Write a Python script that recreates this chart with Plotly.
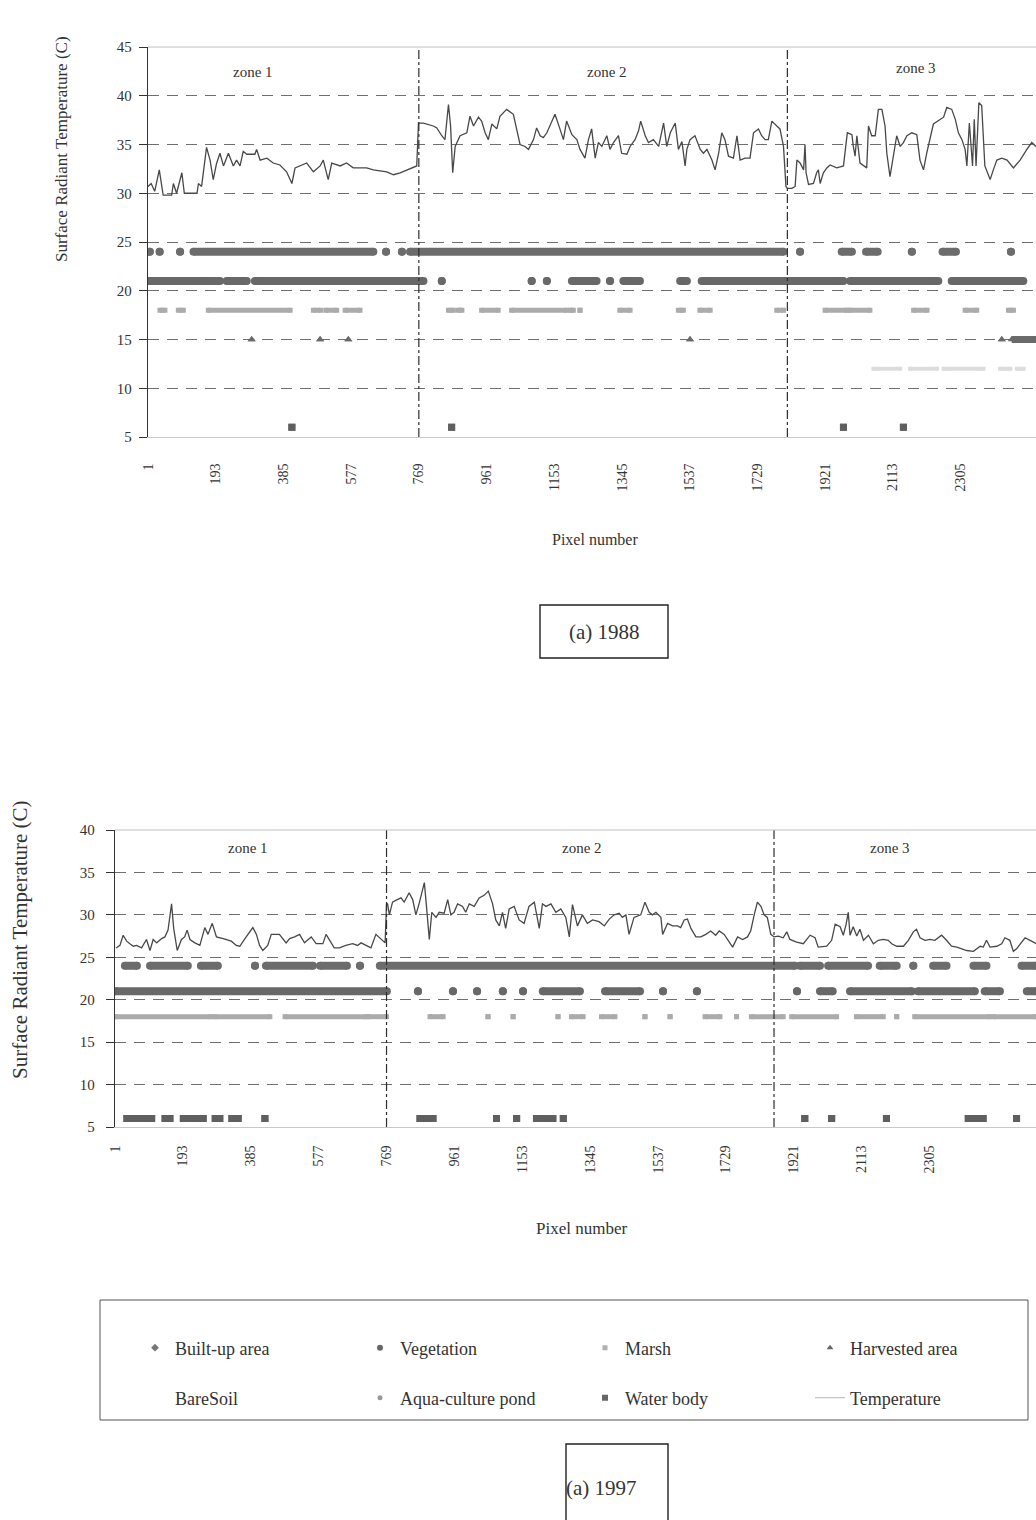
import plotly.graph_objects as go

# ---------------------------------------------------------------- data
TICK_PIXELS = [1, 193, 385, 577, 769, 961, 1153, 1345, 1537, 1729, 1921, 2113, 2305]
TICK_TEXT = ["1", "193", "385", "577", "769", "961", "1153", "1345", "1537",
             "1729", "1921", "2113", "2305"]

CLASS_NAMES = ["Built-up area", "Vegetation", "Marsh", "Harvested area",
               "BareSoil", "Aqua-culture pond", "Water body"]
CLASS_LEVELS = [24, 21, 18, 15, 12, 9, 6]

ZONE_BOUNDS_88 = [769, 1814]
ZONE_BOUNDS_97 = [769, 1865]

# Surface radiant temperature profile, 1988 (pixel, deg C)
T88_PX = [1, 10, 20, 33, 44, 68, 73, 82, 97, 104, 111, 140, 144, 153, 167, 177, 186, 195, 205, 215,
          229, 243, 252, 262, 271, 281, 304, 309, 319, 338, 356, 375, 394, 409, 418, 432, 451, 470,
          489, 498, 512, 522, 546, 564, 583, 621, 640, 678, 697, 716, 735, 763, 768,
          774, 782, 810, 820, 834, 843, 853, 859, 865, 872, 886, 905, 914, 924, 938, 947, 957, 966,
          976, 990, 999, 1018, 1037, 1047, 1056, 1070, 1080, 1094, 1103, 1113, 1122, 1132, 1146,
          1155, 1169, 1179, 1188, 1203, 1217, 1226, 1240, 1250, 1259, 1269, 1278, 1288, 1302, 1311,
          1321, 1335, 1344, 1359, 1368, 1382, 1392, 1398, 1411, 1420, 1434, 1449, 1463, 1472, 1482,
          1496, 1505, 1515, 1524, 1529, 1538, 1552, 1567, 1576, 1586, 1600, 1609, 1619, 1628, 1637,
          1647, 1661, 1671, 1680, 1694, 1708, 1718, 1732, 1741, 1751, 1760, 1770, 1784, 1793, 1803,
          1810,
          1814, 1827, 1836, 1841, 1850, 1860, 1864, 1867, 1874, 1888, 1897, 1902, 1907, 1916, 1926,
          1935, 1954, 1973, 1984, 1997, 2001, 2006, 2011, 2020, 2039, 2044, 2053, 2063, 2072, 2082,
          2091, 2096, 2105, 2115, 2124, 2134, 2143, 2153, 2167, 2181, 2190, 2200, 2209, 2228, 2242,
          2257, 2266, 2280, 2290, 2299, 2309, 2318, 2323, 2330, 2335, 2339, 2344, 2349, 2357, 2365,
          2374, 2389, 2398, 2408, 2422, 2437, 2455, 2474, 2493, 2507, 2519]
T88_C = [30.7, 31.0, 30.2, 32.4, 29.8, 29.8, 31.0, 30.0, 32.1, 30.0, 30.0, 30.0, 31.0, 30.7, 34.7,
         33.4, 31.4, 33.0, 34.1, 32.8, 34.1, 32.8, 33.4, 32.8, 34.3, 34.0, 34.0, 34.5, 33.4, 33.6,
         33.1, 32.9, 32.2, 31.0, 32.6, 32.8, 33.1, 32.2, 32.8, 33.4, 31.4, 33.1, 32.8, 33.1, 32.6,
         32.6, 32.4, 32.2, 31.9, 32.1, 32.4, 32.8, 37.2,
         37.2, 37.2, 36.9, 36.7, 35.9, 35.5, 39.1, 36.9, 32.1, 34.8, 35.9, 36.2, 37.9, 36.9, 37.8,
         37.4, 36.2, 35.5, 37.1, 36.6, 37.9, 38.6, 38.1, 36.6, 35.0, 34.8, 34.5, 35.5, 36.7, 35.9,
         35.7, 36.2, 37.4, 38.1, 36.6, 35.5, 37.4, 36.0, 35.5, 34.5, 33.6, 35.5, 36.6, 33.6, 35.2,
         34.8, 35.9, 34.5, 35.2, 35.9, 34.1, 34.0, 34.8, 35.5, 36.4, 37.4, 35.9, 35.2, 35.5, 34.8,
         37.2, 34.8, 36.2, 37.2, 34.5, 35.3, 32.8, 34.5, 35.5, 35.9, 34.5, 34.1, 34.5, 33.4, 32.4,
         34.1, 36.2, 35.5, 33.8, 33.6, 35.9, 33.4, 33.6, 33.6, 36.2, 36.6, 35.9, 35.5, 35.5, 37.4,
         36.9, 36.6, 34.8, 30.7,
         30.5, 30.5, 30.7, 33.4, 33.1, 32.4, 35.0, 32.1, 30.9, 31.0, 32.1, 32.4, 31.0, 32.1, 32.6,
         32.9, 32.6, 32.8, 36.2, 36.0, 34.8, 33.8, 35.9, 33.1, 32.6, 36.9, 35.9, 35.9, 38.6, 38.6,
         36.9, 34.1, 31.7, 33.8, 35.9, 34.8, 35.2, 35.9, 36.2, 36.0, 33.4, 32.4, 34.1, 37.1, 37.4,
         37.8, 38.8, 38.6, 37.6, 36.2, 35.5, 34.5, 32.8, 37.2, 34.8, 32.8, 37.6, 32.8, 39.3, 39.0,
         32.8, 31.4, 32.4, 33.4, 33.6, 33.4, 32.6, 33.4, 34.5, 35.2, 34.8]

# Surface radiant temperature profile, 1997 (pixel, deg C)
T97_PX = [4, 15, 24, 34, 43, 53, 62, 76, 90, 100, 109, 119, 133, 142, 151, 161, 167, 177, 189, 198,
          205, 213, 227, 241, 255, 264, 276, 288, 307, 316, 330, 344, 354, 372, 391, 401, 410, 419,
          433, 443, 466, 485, 495, 509, 523, 537, 556, 570, 589, 598, 612, 621, 636, 654, 673, 687,
          697, 711, 725, 739, 753, 765, 769,
          772, 777, 786, 795, 810, 819, 833, 843, 852, 861, 876, 882, 890, 897, 909, 918, 932, 942,
          951, 960, 970, 984, 993, 1003, 1017, 1031, 1045, 1057, 1069, 1078, 1088, 1097, 1106, 1116,
          1130, 1144, 1158, 1172, 1187, 1201, 1210, 1220, 1234, 1248, 1262, 1276, 1286, 1295, 1309,
          1323, 1337, 1352, 1370, 1385, 1399, 1413, 1427, 1436, 1446, 1455, 1469, 1488, 1500, 1512,
          1521, 1531, 1545, 1550, 1564, 1578, 1592, 1601, 1611, 1620, 1630, 1644, 1658, 1672, 1686,
          1700, 1710, 1724, 1733, 1748, 1762, 1776, 1790, 1799, 1809, 1818, 1828, 1837, 1846, 1856,
          1865,
          1877, 1891, 1901, 1910, 1929, 1948, 1967, 1981, 1990, 2014, 2028, 2038, 2052, 2061, 2069,
          2075, 2080, 2089, 2099, 2108, 2118, 2132, 2146, 2160, 2174, 2188, 2198, 2212, 2231, 2245,
          2259, 2268, 2278, 2292, 2306, 2320, 2339, 2353, 2367, 2382, 2396, 2410, 2429, 2448, 2457,
          2466, 2476, 2495, 2509, 2518, 2532, 2542, 2551, 2561, 2575, 2589, 2607]
T97_C = [26.1, 26.4, 27.6, 26.9, 26.6, 26.3, 26.4, 26.1, 27.1, 25.8, 27.1, 26.7, 27.2, 27.4, 28.2,
         31.3, 28.4, 25.8, 27.1, 27.4, 28.2, 27.1, 26.7, 26.4, 28.5, 27.7, 29.0, 27.4, 27.2, 27.1,
         26.9, 26.4, 26.3, 27.4, 28.5, 27.7, 26.4, 25.8, 26.4, 27.7, 27.7, 26.7, 27.2, 27.4, 27.7,
         26.7, 27.4, 26.6, 26.6, 27.7, 26.7, 26.1, 26.1, 26.4, 26.6, 26.4, 26.7, 26.4, 26.1, 27.7,
         27.2, 26.7, 31.3,
         31.3, 30.0, 31.5, 31.7, 32.0, 31.5, 32.6, 31.8, 30.0, 31.3, 33.8, 31.0, 27.1, 30.3, 29.7,
         30.3, 30.2, 31.8, 30.0, 30.3, 31.3, 31.0, 30.3, 31.3, 31.0, 32.0, 32.3, 32.8, 31.3, 29.4,
         28.7, 30.3, 28.4, 30.7, 31.0, 29.4, 29.0, 31.0, 31.5, 28.4, 31.3, 31.0, 31.3, 30.3, 30.7,
         29.7, 27.4, 31.2, 28.7, 30.0, 29.0, 29.4, 29.2, 28.7, 29.5, 30.0, 30.2, 29.7, 30.0, 27.7,
         29.7, 30.0, 31.5, 30.3, 30.0, 30.3, 29.7, 27.7, 29.0, 28.7, 28.7, 28.5, 29.4, 29.5, 28.4,
         27.4, 27.4, 27.7, 28.1, 27.6, 28.1, 27.7, 27.1, 26.2, 27.4, 27.1, 27.4, 28.1, 30.0, 31.5,
         31.0, 30.0, 29.7, 27.7, 27.4,
         27.5, 27.3, 28.0, 27.1, 26.8, 26.6, 27.6, 27.3, 26.2, 26.3, 27.0, 28.9, 28.6, 27.6, 28.9,
         30.3, 27.6, 28.6, 27.5, 28.3, 27.0, 27.6, 26.6, 27.0, 27.1, 27.0, 26.6, 26.3, 26.3, 27.0,
         28.0, 28.3, 27.3, 27.0, 27.1, 27.0, 27.6, 27.0, 26.3, 26.2, 26.0, 25.8, 25.7, 26.3, 26.2,
         27.0, 26.2, 26.3, 26.6, 27.3, 27.0, 25.7, 26.0, 26.6, 27.3, 27.0, 26.6]

# Land-cover class occurrence along the transect, as (first pixel, last pixel) runs
BUILTUP_88 = [(6, 6), (34, 34), (92, 92), (130, 640), (676, 676), (721, 721), (744, 1803),
              (1850, 1850), (1968, 1997), (2037, 2070), (2167, 2167), (2254, 2292), (2448, 2448)]
VEG_88 = [(1, 158), (163, 205), (224, 281), (304, 782), (834, 834), (1089, 1089), (1132, 1132),
          (1203, 1273), (1311, 1311), (1349, 1396), (1510, 1529), (1571, 1973), (1992, 2242),
          (2280, 2483)]
MARSH_88 = [(35, 49), (87, 101), (172, 404), (470, 490), (505, 536), (560, 602), (853, 867),
            (881, 891), (947, 994), (1032, 1188), (1198, 1207), (1226, 1226), (1339, 1368),
            (1505, 1519), (1566, 1595), (1784, 1803), (1921, 1983), (1991, 2048), (2172, 2210),
            (2318, 2351), (2441, 2455)]
HARV_88 = [(295, 295), (489, 489), (569, 569), (1538, 1538), (2422, 2422), (2450, 2519)]
BARE_88 = [(2058, 2134), (2162, 2238), (2257, 2370), (2417, 2446), (2465, 2484)]
AQUA_88 = []
WATER_88 = [(409, 409), (862, 862), (1973, 1973), (2143, 2143)]

BUILTUP_97 = [(29, 63), (100, 207), (244, 292), (397, 397), (428, 561), (581, 657), (694, 694),
              (750, 1924), (1938, 1995), (2018, 2131), (2164, 2212), (2259, 2259), (2315, 2353),
              (2429, 2466), (2565, 2606)]
VEG_97 = [(3, 770), (858, 858), (957, 957), (1025, 1025), (1098, 1098), (1155, 1155),
          (1211, 1316), (1387, 1486), (1551, 1551), (1647, 1647), (1930, 1930), (1995, 2031),
          (2080, 2255), (2272, 2433), (2461, 2504), (2580, 2606)]
MARSH_97 = [(1, 272), (282, 439), (482, 711), (717, 769), (892, 929), (1056, 1056),
            (1127, 1127), (1254, 1254), (1292, 1325), (1377, 1415), (1500, 1500), (1571, 1571),
            (1670, 1712), (1759, 1759), (1801, 1891), (1915, 2042), (2098, 2174), (2212, 2212),
            (2263, 2475), (2485, 2606)]
HARV_97 = []
BARE_97 = []
AQUA_97 = []
WATER_97 = [(34, 105), (142, 157), (194, 251), (284, 298), (331, 350), (425, 425), (863, 901),
            (1080, 1080), (1137, 1137), (1193, 1240), (1269, 1269), (1952, 1952), (2028, 2028),
            (2183, 2183), (2414, 2457), (2551, 2551)]

# ---------------------------------------------------------------- styling
SERIF = "Liberation Serif, Times New Roman, serif"
INK = "#333333"
CLASS_STYLE = {
    "Built-up area":     dict(color="#6c6c6c", symbol="circle", size=8),
    "Vegetation":        dict(color="#686868", symbol="circle", size=8),
    "Marsh":             dict(color="#ababab", symbol="square", size=5),
    "Harvested area":    dict(color="#6a6a6a", symbol="triangle-up", size=7),
    "BareSoil":          dict(color="#dcdcdc", symbol="square", size=4),
    "Aqua-culture pond": dict(color="#b5b5b5", symbol="circle", size=5),
    "Water body":        dict(color="#5f5f5f", symbol="square", size=7),
}
LEGEND_MARK = {
    "Built-up area": dict(color="#777777", symbol="diamond", size=6),
    "Vegetation": dict(color="#666666", symbol="circle", size=6),
    "Marsh": dict(color="#b0b0b0", symbol="square", size=5),
    "Harvested area": dict(color="#666666", symbol="triangle-up", size=6),
    "BareSoil": dict(color="#ffffff", symbol="square", size=5),
    "Aqua-culture pond": dict(color="#999999", symbol="circle", size=5),
    "Water body": dict(color="#666666", symbol="square", size=6),
}

fig = go.Figure()


def add_runs(runs, level, name, xa, ya):
    if not runs:
        return
    xs, ys = [], []
    for a, b in runs:
        xs += [a, b, None]
        ys += [level, level, None]
    st = CLASS_STYLE[name]
    fig.add_trace(go.Scatter(
        x=xs, y=ys, mode="lines+markers", xaxis=xa, yaxis=ya, showlegend=False,
        line=dict(color=st["color"], width=st["size"]),
        marker=dict(color=st["color"], symbol=st["symbol"], size=st["size"], line=dict(width=0)),
        hoverinfo="skip", connectgaps=False, name=name))


panels = [
    ("x", "y", [BUILTUP_88, VEG_88, MARSH_88, HARV_88, BARE_88, AQUA_88, WATER_88], T88_PX, T88_C),
    ("x2", "y2", [BUILTUP_97, VEG_97, MARSH_97, HARV_97, BARE_97, AQUA_97, WATER_97], T97_PX, T97_C),
]
for xa, ya, runs_list, tpx, tc in panels:
    for runs, level, name in zip(runs_list, CLASS_LEVELS, CLASS_NAMES):
        add_runs(runs, level, name, xa, ya)
    fig.add_trace(go.Scatter(x=tpx, y=tc, mode="lines", xaxis=xa, yaxis=ya, showlegend=False,
                             line=dict(color="#484848", width=1.3), name="Temperature"))

# legend entries (two rows of four)
for i, name in enumerate(CLASS_NAMES):
    fig.add_trace(go.Scatter(x=[None], y=[None], mode="markers", name=name,
                             marker=dict(line=dict(width=0), **LEGEND_MARK[name]),
                             legend="legend" if i < 4 else "legend2"))
fig.add_trace(go.Scatter(x=[None], y=[None], mode="lines", name="Temperature",
                         line=dict(color="#c4c4c4", width=1.2), legend="legend2"))

H = 1520.0
W = 1036.0


def py(px):
    return 1 - px / H


def pxx(px):
    return px / W


axis_common = dict(
    showgrid=False, zeroline=False, showline=True, linecolor="#c8c8c8", linewidth=1,
    ticks="", tickmode="array", tickvals=TICK_PIXELS, ticktext=TICK_TEXT, tickangle=-90,
    tickfont=dict(family=SERIF, size=14, color=INK),
)
yaxis_common = dict(
    showgrid=True, gridcolor="#6f6f6f", gridwidth=1, griddash="11px,8px", zeroline=False,
    showline=True, linecolor=INK, linewidth=1.3, ticks="outside", ticklen=8, tickcolor=INK,
    tickwidth=1.1, dtick=5, tickfont=dict(family=SERIF, size=15, color=INK),
)
legend_common = dict(orientation="h", xanchor="left", yanchor="middle", entrywidth=180,
                     entrywidthmode="pixels", bgcolor="rgba(0,0,0,0)",
                     font=dict(family=SERIF, size=18, color=INK), itemsizing="trace")

fig.update_layout(
    width=1036, height=1520, margin=dict(l=0, r=0, t=0, b=0),
    paper_bgcolor="white", plot_bgcolor="white", template="none",
    xaxis=dict(domain=[pxx(148), 1], range=[1, 2519], anchor="y", ticklabelstandoff=20,
               **axis_common),
    yaxis=dict(domain=[py(437), py(47)], range=[5, 45], anchor="x", tick0=5,
               ticklabelstandoff=4, **yaxis_common),
    xaxis2=dict(domain=[pxx(115), 1], range=[1, 2606], anchor="y2", ticklabelstandoff=12,
                **axis_common),
    yaxis2=dict(domain=[py(1127), py(830)], range=[5, 40], anchor="x2", tick0=5,
                ticklabelstandoff=8, **yaxis_common),
    legend=dict(x=pxx(135), y=py(1348), **legend_common),
    legend2=dict(x=pxx(135), y=py(1398), **legend_common),
)

shapes = []
# zone separators
for bound in ZONE_BOUNDS_88:
    shapes.append(dict(type="line", xref="x", yref="y domain", x0=bound, x1=bound, y0=0, y1=1,
                       line=dict(color="#2e2e2e", width=1.2, dash="dashdot")))
for bound in ZONE_BOUNDS_97:
    shapes.append(dict(type="line", xref="x2", yref="y2 domain", x0=bound, x1=bound, y0=0, y1=1,
                       line=dict(color="#2e2e2e", width=1.2, dash="dashdot")))
# faint top border of both plot areas
for xr, yr in (("x domain", "y domain"), ("x2 domain", "y2 domain")):
    shapes.append(dict(type="line", xref=xr, yref=yr, x0=0, x1=1, y0=1, y1=1,
                       line=dict(color="#c0c0c0", width=1)))
# legend frame
shapes.append(dict(type="rect", xref="paper", yref="paper", x0=pxx(100), x1=pxx(1028),
                   y0=py(1420), y1=py(1300), line=dict(color="#555555", width=1)))
# caption boxes
shapes.append(dict(type="rect", xref="paper", yref="paper", x0=pxx(540), x1=pxx(668),
                   y0=py(658), y1=py(605), line=dict(color="#222222", width=1.4)))
shapes.append(dict(type="rect", xref="paper", yref="paper", x0=pxx(566), x1=pxx(668),
                   y0=py(1535), y1=py(1444), line=dict(color="#222222", width=1.4)))
fig.update_layout(shapes=shapes)

ann = []


def text(x, y, s, size, angle=0, xref="paper", yref="paper"):
    ann.append(dict(x=x, y=y, xref=xref, yref=yref, text=s, showarrow=False, textangle=angle,
                    font=dict(family=SERIF, size=size, color=INK), xanchor="center",
                    yanchor="middle"))


# zone captions
text(299, 42.4, "zone 1", 15, xref="x", yref="y")
text(1303, 42.4, "zone 2", 15, xref="x", yref="y")
text(2179, 42.8, "zone 3", 15, xref="x", yref="y")
text(377, 37.9, "zone 1", 15, xref="x2", yref="y2")
text(1322, 37.9, "zone 2", 15, xref="x2", yref="y2")
text(2193, 37.9, "zone 3", 15, xref="x2", yref="y2")
# axis titles
text(pxx(62), py(149), "Surface Radiant Temperature (C)", 17, angle=-90)
text(pxx(20), py(940), "Surface Radiant Temperature (C)", 21, angle=-90)
text(pxx(595), py(539), "Pixel number", 16)
text(pxx(581), py(1228), "Pixel number", 17)
# panel captions
text(pxx(604), py(632), "(a) 1988", 21)
text(pxx(601), py(1488), "(a) 1997", 21)
fig.update_layout(annotations=ann)

fig.write_html("out.html")
